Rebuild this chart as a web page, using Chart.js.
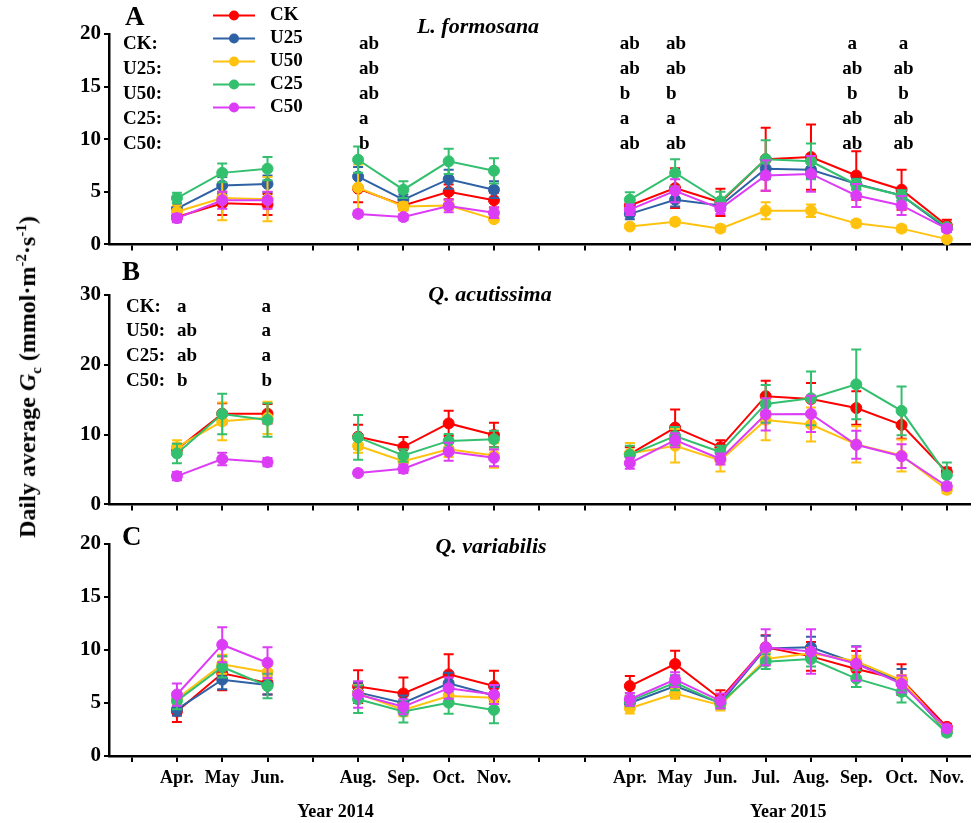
<!DOCTYPE html>
<html lang="en">
<head>
  <meta charset="UTF-8">
  <title>Daily average Gc</title>
  <script src="https://cdn.jsdelivr.net/npm/chart.js"></script>
  <style>
    body { margin: 0; background: #fff; }
    #wrap { position: relative; width: 976px; height: 823px; }
    #wrap canvas { position: absolute; left: 0; }
    #yTitle {
      position: absolute; left: 29px; top: 377px;
      transform: translate(-50%, -50%) rotate(-90deg);
      white-space: nowrap;
      font: bold 24px "Liberation Serif", serif;
      color: #000;
    }
    #yTitle sup, #yTitle sub { font-size: 15px; }
  </style>
</head>
<body>
<div id="wrap">
  <canvas id="chartA" width="976" height="260" style="top:0"></canvas>
  <canvas id="chartB" width="976" height="260" style="top:260px"></canvas>
  <canvas id="chartC" width="976" height="303" style="top:520px"></canvas>
  <div id="yTitle">Daily average <i>G</i><sub>c</sub> (mmol·m<sup>-2</sup>·s<sup>-1</sup>)</div>
</div>

<script>
  // x positions (slot index on the axis) and month labels
  var xIdx = [1, 2, 3, 5, 6, 7, 8, 11, 12, 13, 14, 15, 16, 17, 18];
  var monthLabels = ['Apr.', 'May', 'Jun.', 'Aug.', 'Sep.', 'Oct.', 'Nov.',
                     'Apr.', 'May', 'Jun.', 'Jul.', 'Aug.', 'Sep.', 'Oct.', 'Nov.'];
  var yearLabels = ['Year 2014', 'Year 2015'];
  var yearCenters = [4.5, 14.5];

  var seriesNames = ['CK', 'U25', 'U50', 'C25', 'C50'];
  var seriesColors = ['#ff0000', '#2e62a4', '#ffc20e', '#33c06e', '#dc3cf5'];

  // A: L. formosana
  var ckA  = [2.6, 3.9, 3.8, 5.3, 3.7, 5.0, 4.2, 3.7, 5.35, 4.0, 8.1, 8.3, 6.55, 5.2, 1.8];
  var u25A = [3.4, 5.6, 5.75, 6.45, 4.25, 6.2, 5.2, 2.9, 4.25, 3.7, 7.2, 7.1, 5.75, 4.65, 1.5];
  var u50A = [3.1, 4.4, 4.3, 5.4, 3.6, 3.7, 2.4, 1.7, 2.15, 1.5, 3.2, 3.2, 2.0, 1.5, 0.5];
  var c25A = [4.4, 6.8, 7.2, 8.05, 5.2, 7.9, 7.0, 4.25, 6.8, 4.1, 8.1, 7.9, 5.7, 4.65, 1.65];
  var c50A = [2.5, 4.2, 4.2, 2.9, 2.6, 3.65, 3.0, 3.3, 5.1, 3.4, 6.55, 6.7, 4.65, 3.7, 1.5];
  var ckAErr  = [0.4, 1.1, 1.0, 1.3, 0.4, 0.7, 0.7, 0.6, 1.9, 1.3, 3.0, 3.1, 2.3, 1.9, 0.55];
  var u25AErr = [0.5, 0.8, 0.8, 0.9, 0.5, 0.9, 0.8, 0.5, 0.65, 0.5, 1.0, 0.8, 0.5, 0.5, 0.3];
  var u50AErr = [0.6, 2.1, 2.1, 2.2, 0.4, 0.4, 0.2, 0.2, 0.3, 0.3, 0.8, 0.6, 0.3, 0.3, 0.2];
  var c25AErr = [0.5, 0.9, 1.1, 1.25, 0.8, 1.2, 1.2, 0.7, 1.3, 0.9, 1.8, 1.7, 0.5, 0.5, 0.3];
  var c50AErr = [0.4, 0.8, 0.8, 0.3, 0.3, 0.6, 0.5, 0.5, 1.1, 0.5, 1.45, 1.7, 1.1, 0.9, 0.3];

  // B: Q. acutissima (no U25)
  var ckB  = [7.9, 13.0, 13.0, 9.7, 8.25, 11.6, 9.95, 7.2, 11.0, 8.2, 15.5, 15.1, 13.8, 11.4, 4.65];
  var u50B = [8.2, 11.9, 12.4, 8.4, 6.2, 7.9, 7.0, 7.3, 8.4, 6.3, 12.1, 11.45, 8.6, 7.0, 2.1];
  var c25B = [7.3, 12.96, 12.1, 9.6, 7.0, 9.1, 9.35, 7.1, 9.8, 7.5, 14.4, 15.2, 17.2, 13.4, 4.2];
  var c50B = [4.05, 6.5, 6.05, 4.5, 5.1, 7.55, 6.67, 5.9, 9.2, 6.5, 12.9, 12.96, 8.55, 6.9, 2.6];
  var ckBErr  = [0.8, 1.5, 1.4, 1.7, 1.4, 1.8, 1.75, 1.0, 2.6, 1.0, 2.2, 2.3, 2.4, 2.0, 0.6];
  var u50BErr = [1.0, 2.7, 2.3, 1.0, 1.0, 1.1, 1.75, 1.5, 2.4, 1.6, 2.9, 2.45, 2.6, 2.3, 0.5];
  var c25BErr = [1.4, 2.9, 2.4, 3.2, 0.9, 1.0, 1.2, 1.3, 1.3, 0.9, 2.7, 3.85, 5.0, 3.5, 1.8];
  var c50BErr = [0.6, 0.9, 0.6, 0.4, 0.6, 1.3, 1.2, 0.8, 1.0, 0.8, 2.3, 2.6, 2.0, 1.7, 0.5];

  // C: Q. variabilis
  var ckC  = [4.2, 7.8, 6.9, 6.55, 5.9, 7.7, 6.6, 6.6, 8.68, 5.4, 10.25, 9.4, 8.2, 7.2, 2.75];
  var u25C = [4.4, 7.2, 6.7, 6.0, 5.0, 6.86, 5.7, 5.0, 6.6, 5.0, 10.15, 10.25, 8.75, 7.0, 2.3];
  var u50C = [5.4, 8.65, 7.9, 5.9, 4.35, 5.66, 5.5, 4.5, 5.9, 4.8, 9.15, 9.7, 8.95, 7.15, 2.4];
  var c25C = [5.2, 8.4, 6.6, 5.35, 4.2, 5.03, 4.35, 5.2, 6.9, 4.97, 8.9, 9.15, 7.3, 6.05, 2.2];
  var c50C = [5.8, 10.5, 8.8, 5.8, 4.65, 6.4, 5.8, 5.35, 7.2, 5.2, 10.25, 9.85, 8.7, 6.8, 2.6];
  var ckCErr  = [1.0, 1.6, 1.1, 1.55, 1.5, 1.9, 1.45, 0.95, 1.25, 0.8, 1.15, 1.35, 1.7, 1.45, 0.3];
  var u25CErr = [0.6, 0.9, 0.9, 0.9, 0.7, 1.0, 0.8, 0.5, 1.0, 0.5, 1.2, 1.0, 1.6, 1.2, 0.3];
  var u50CErr = [0.6, 0.9, 0.6, 0.8, 0.6, 0.6, 0.5, 0.5, 0.5, 0.5, 0.6, 0.5, 0.5, 0.5, 0.3];
  var c25CErr = [0.8, 1.0, 1.15, 1.3, 1.05, 1.05, 1.25, 0.5, 0.7, 0.5, 0.7, 0.7, 0.8, 1.0, 0.3];
  var c50CErr = [1.05, 1.65, 1.45, 1.25, 0.7, 1.0, 0.9, 0.6, 0.7, 0.7, 1.7, 2.1, 1.6, 0.8, 0.3];

  // significance letters
  var sigRowsA = ['CK:', 'U25:', 'U50:', 'C25:', 'C50:'];
  var sigColsA = [5, 11, 12, 16, 17];
  var sigLettersA = [
    ['ab', 'ab', 'ab', 'a', 'b'],
    ['ab', 'ab', 'b', 'a', 'ab'],
    ['ab', 'ab', 'b', 'a', 'ab'],
    ['a', 'ab', 'b', 'ab', 'ab'],
    ['a', 'ab', 'b', 'ab', 'ab']
  ];
  var sigRowsB = ['CK:', 'U50:', 'C25:', 'C50:'];
  var sigColsB = [1, 3];
  var sigLettersB = [
    ['a', 'ab', 'ab', 'b'],
    ['a', 'a', 'a', 'b']
  ];

  var FONT = '"Liberation Serif", "Times New Roman", serif';

  // turn a value list into points, breaking the line where months are missing
  function buildPoints(vals, errs) {
    var pts = [];
    for (var i = 0; i < xIdx.length; i++) {
      if (i > 0 && xIdx[i] - xIdx[i - 1] > 1) {
        pts.push({ x: xIdx[i] - 1, y: null });
      }
      pts.push({ x: xIdx[i], y: vals[i], err: errs[i] });
    }
    return pts;
  }

  function makeDataset(name, vals, errs) {
    var n = seriesNames.indexOf(name);
    var c = seriesColors[n];
    return {
      label: name,
      data: buildPoints(vals, errs),
      borderColor: c,
      backgroundColor: c,
      borderWidth: 2,
      pointRadius: 5.5,
      pointBorderWidth: 1,
      spanGaps: false,
      clip: false,
      order: -n // later series drawn on top
    };
  }

  // error bars drawn right after each dataset so they layer with it
  var errorBarPlugin = {
    id: 'errorBars',
    afterDatasetDraw: function (chart, args) {
      var ds = chart.data.datasets[args.index];
      var ctx = chart.ctx, xs = chart.scales.x, ys = chart.scales.y;
      ctx.save();
      ctx.strokeStyle = ds.borderColor;
      ctx.lineWidth = 2;
      ds.data.forEach(function (p) {
        if (p.y === null || !p.err) return;
        var x = xs.getPixelForValue(p.x);
        var yt = ys.getPixelForValue(p.y + p.err);
        var yb = ys.getPixelForValue(p.y - p.err);
        ctx.beginPath();
        ctx.moveTo(x, yt); ctx.lineTo(x, yb);
        ctx.moveTo(x - 5, yt); ctx.lineTo(x + 5, yt);
        ctx.moveTo(x - 5, yb); ctx.lineTo(x + 5, yb);
        ctx.stroke();
      });
      ctx.restore();
    }
  };

  // panel letter, species title, significance table, legend, year labels
  var panelTextPlugin = {
    id: 'panelText',
    afterDraw: function (chart, args, o) {
      var ctx = chart.ctx, xs = chart.scales.x;
      ctx.save();
      ctx.fillStyle = '#000';
      ctx.textBaseline = 'middle';

      ctx.font = 'bold 27px ' + FONT;
      ctx.textAlign = 'left';
      ctx.fillText(o.letter, o.letterX, o.letterY);

      ctx.font = 'italic bold 22px ' + FONT;
      ctx.textAlign = 'center';
      ctx.fillText(o.title, o.titleX, o.titleY);

      if (o.sigRows) {
        ctx.font = 'bold 19px ' + FONT;
        o.sigRows.forEach(function (r, i) {
          ctx.textAlign = 'left';
          ctx.fillText(r, o.sigLabelX, o.sigY0 + i * o.sigDy);
        });
        o.sigCols.forEach(function (k, j) {
          var x = xs.getPixelForValue(k) + o.sigDx[j];
          ctx.textAlign = o.sigAlign[j];
          o.sigLetters[j].forEach(function (t, i) {
            ctx.fillText(t, x, o.sigY0 + i * o.sigDy);
          });
        });
      }

      if (o.legend) {
        ctx.font = 'bold 19px ' + FONT;
        ctx.textAlign = 'left';
        seriesNames.forEach(function (n, i) {
          var y = 15.5 + i * 23;
          ctx.strokeStyle = seriesColors[i];
          ctx.fillStyle = seriesColors[i];
          ctx.lineWidth = 2;
          ctx.beginPath(); ctx.moveTo(213, y); ctx.lineTo(255, y); ctx.stroke();
          ctx.beginPath(); ctx.arc(234, y, 5, 0, Math.PI * 2); ctx.fill();
          ctx.fillStyle = '#000';
          ctx.fillText(n, 270, y);
        });
      }

      if (o.years) {
        ctx.font = 'bold 18px ' + FONT;
        ctx.textAlign = 'center';
        yearLabels.forEach(function (t, i) {
          ctx.fillText(t, xs.getPixelForValue(yearCenters[i]), 292);
        });
      }
      ctx.restore();
    }
  };

  function makePanel(id, datasets, yMax, yStep, padTop, xHeight, showLabels, textOpts) {
    var ctx = document.getElementById(id).getContext('2d');
    return new Chart(ctx, {
      type: 'line',
      data: { datasets: datasets },
      plugins: [errorBarPlugin, panelTextPlugin],
      options: {
        responsive: false,
        animation: false,
        layout: { padding: { top: padTop, right: 1, left: 0, bottom: 0 } },
        plugins: {
          legend: { display: false },
          tooltip: { enabled: false },
          panelText: textOpts
        },
        scales: {
          x: {
            type: 'linear',
            min: -0.5,
            max: 18.5,
            afterBuildTicks: function (scale) {
              var t = [];
              for (var k = 0; k <= 18; k++) t.push({ value: k });
              scale.ticks = t;
            },
            afterFit: function (scale) { scale.height = xHeight; },
            ticks: {
              autoSkip: false,
              maxRotation: 0,
              padding: 6,
              color: '#000',
              font: { family: FONT, weight: 'bold', size: 18 },
              callback: function (v) {
                if (!showLabels) return '';
                var i = xIdx.indexOf(v);
                return i >= 0 ? monthLabels[i] : '';
              }
            },
            grid: { drawOnChartArea: false, drawTicks: true, tickLength: 6, color: '#000', lineWidth: 2 },
            border: { color: '#000', width: 2.5 }
          },
          y: {
            min: 0,
            max: yMax,
            afterFit: function (scale) { scale.width = 109; },
            ticks: {
              stepSize: yStep,
              padding: 3,
              color: '#000',
              font: { family: FONT, weight: 'bold', size: 21 }
            },
            grid: { drawOnChartArea: false, drawTicks: true, tickLength: 5, color: '#000', lineWidth: 2 },
            border: { color: '#000', width: 2.5 }
          }
        }
      }
    });
  }

  makePanel('chartA', [
    makeDataset('CK', ckA, ckAErr),
    makeDataset('U25', u25A, u25AErr),
    makeDataset('U50', u50A, u50AErr),
    makeDataset('C25', c25A, c25AErr),
    makeDataset('C50', c50A, c50AErr)
  ], 20, 5, 34, 14, false, {
    letter: 'A', letterX: 125, letterY: 18,
    title: 'L. formosana', titleX: 478, titleY: 27,
    sigRows: sigRowsA, sigCols: sigColsA, sigLetters: sigLettersA,
    sigLabelX: 123, sigY0: 44.5, sigDy: 24.9,
    sigDx: [1, -10, -9, -4, 2], sigAlign: ['left', 'left', 'left', 'center', 'center'],
    legend: true
  });

  makePanel('chartB', [
    makeDataset('CK', ckB, ckBErr),
    makeDataset('U50', u50B, u50BErr),
    makeDataset('C25', c25B, c25BErr),
    makeDataset('C50', c50B, c50BErr)
  ], 30, 10, 35, 12, false, {
    letter: 'B', letterX: 122, letterY: 13,
    title: 'Q. acutissima', titleX: 490, titleY: 35,
    sigRows: sigRowsB, sigCols: sigColsB, sigLetters: sigLettersB,
    sigLabelX: 126, sigY0: 46.7, sigDy: 24.7,
    sigDx: [0, -6], sigAlign: ['left', 'left']
  });

  makePanel('chartC', [
    makeDataset('CK', ckC, ckCErr),
    makeDataset('U25', u25C, u25CErr),
    makeDataset('U50', u50C, u50CErr),
    makeDataset('C25', c25C, c25CErr),
    makeDataset('C50', c50C, c50CErr)
  ], 20, 5, 24, 67, true, {
    letter: 'C', letterX: 122, letterY: 18,
    title: 'Q. variabilis', titleX: 491, titleY: 27,
    years: true
  });
</script>
</body>
</html>
